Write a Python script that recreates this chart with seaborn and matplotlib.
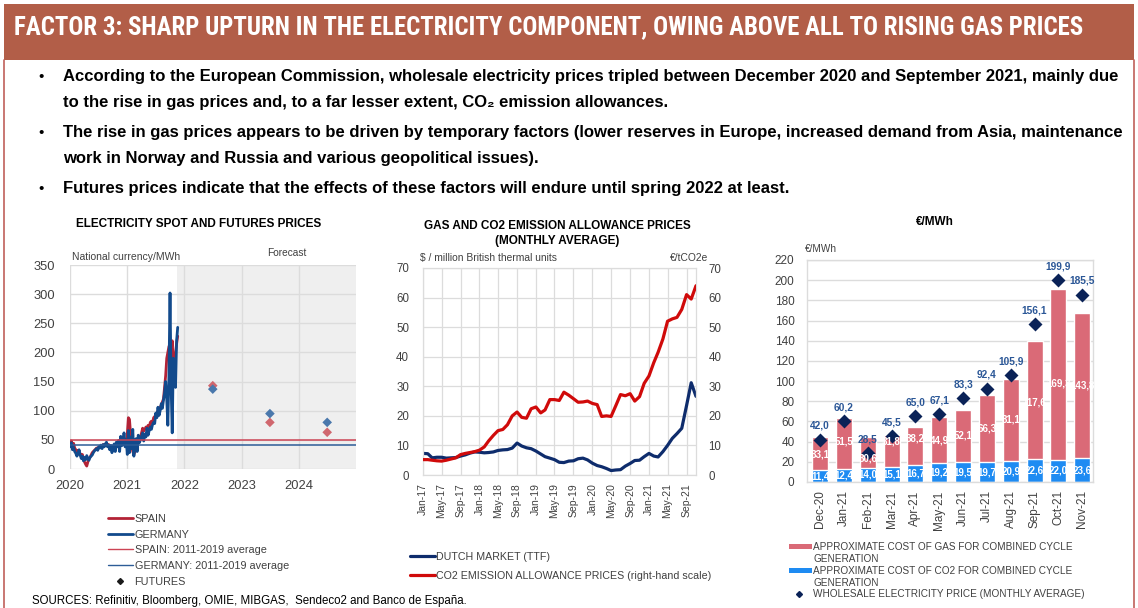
import numpy as np
import pandas as pd
import matplotlib
matplotlib.use("Agg")
import matplotlib.pyplot as plt
from matplotlib.patches import Rectangle
from matplotlib.lines import Line2D
from matplotlib import font_manager as fm
import seaborn as sns

# ---------------- data ----------------
# Chart 1: weekly electricity spot prices (national currency / MWh), from early Jan 2020
spot_start = "2020-01-03"
spain_spot = [42, 48, 40, 44, 36, 33, 30, 32, 30, 26, 22, 25, 18, 12, 8, 5, 12, 18, 20, 24,
              28, 30, 32, 34, 36, 35, 38, 38, 40, 38, 42, 40, 42, 44, 40, 42, 38, 40, 36, 38,
              40, 36, 42, 40, 44, 38, 46, 42, 44, 48, 42, 46,
              60, 88, 85, 60, 40, 30, 25, 30, 45, 42, 50, 48, 55, 62, 70, 65, 68, 72, 70, 75,
              72, 80, 82, 78, 88, 90, 92, 95, 100, 98, 105, 110, 115, 120, 140, 160, 190, 200,
              210, 215, 200, 220, 180, 190, 200, 215, 228]
germany_spot = [38, 45, 33, 37, 30, 27, 22, 26, 33, 24, 18, 22, 14, 20, 16, 23, 18, 15, 20, 22,
                24, 28, 31, 33, 35, 32, 38, 36, 41, 35, 42, 38, 43, 46, 38, 41, 33, 40, 28, 36,
                43, 30, 46, 38, 49, 30, 56, 40, 44, 62, 38, 50,
                25, 66, 28, 55, 35, 68, 22, 48, 52, 30, 58, 45, 50, 56, 62, 48, 60, 55, 70, 58,
                66, 72, 68, 76, 80, 78, 96, 88, 106, 92, 100, 112, 104, 118, 130, 150, 120, 75,
                160, 302, 140, 62, 190, 150, 140, 220, 243]
spain_avg_2011_2019 = 50
germany_avg_2011_2019 = 41
futures_dates = ["2022-07-01", "2023-07-01", "2024-07-01"]
spain_futures = [143, 80, 63]
germany_futures = [137, 95, 80]
year_labels = ["2020", "2021", "2022", "2023", "2024"]

# Chart 2: monthly averages from Jan 2017
gas_start = "2017-01-01"
ttf_price = [7.3, 7.2, 5.8, 6.0, 6.0, 5.7, 5.8, 5.9, 6.4, 6.8, 7.4, 7.8,
             7.7, 7.5, 7.6, 7.8, 8.3, 8.5, 8.6, 9.1, 10.8, 9.8, 9.2, 8.9,
             8.1, 7.1, 6.2, 5.7, 5.2, 4.3, 4.2, 4.7, 4.8, 5.5, 5.7, 5.1,
             4.0, 3.2, 2.8, 2.2, 1.5, 1.7, 1.8, 3.0, 3.9, 4.9, 5.0, 6.2,
             7.3, 6.4, 6.1, 7.9, 10.0, 12.4, 14.0, 15.8, 23.5, 31.2, 26.6]
co2_price = [5.2, 5.2, 5.0, 4.8, 4.7, 5.0, 5.4, 5.8, 6.9, 7.3, 7.6, 7.9,
             8.4, 9.5, 11.5, 13.4, 15.0, 15.4, 17.0, 20.0, 21.3, 19.5, 19.2, 22.4,
             23.0, 21.0, 22.0, 25.5, 25.5, 25.2, 28.0, 27.0, 25.8, 24.6, 24.7, 25.0,
             24.2, 23.8, 19.8, 20.0, 19.8, 23.5, 27.2, 26.8, 27.5, 25.0, 26.5, 31.0,
             33.5, 38.0, 41.5, 46.0, 52.0, 52.8, 53.3, 56.0, 61.0, 59.5, 64.0]

# Chart 3: cost components (EUR/MWh)
cost_months = ["Dec-20", "Jan-21", "Feb-21", "Mar-21", "Apr-21", "May-21",
               "Jun-21", "Jul-21", "Aug-21", "Sep-21", "Oct-21", "Nov-21"]
co2_cost = [11.4, 12.4, 14.0, 15.1, 16.7, 19.2, 19.5, 19.7, 20.9, 22.6, 22.0, 23.6]
gas_cost = [33.1, 51.5, 30.6, 31.8, 38.2, 44.9, 52.1, 66.3, 81.1, 117.6, 169.3, 143.8]
wholesale_price = [42.0, 60.2, 28.5, 45.5, 65.0, 67.1, 83.3, 92.4, 105.9, 156.1, 199.9, 185.5]
gas_label_level = [27.7, 40.5, 23.5, 40, 43.5, 41.6, 46, 53, 61.5, 78.5, 97.5, 96]

# ---------------- style ----------------
W, H = 1138, 608
sns.set_theme(style="white")
BASE = ["Liberation Sans", "DejaVu Sans"]
plt.rcParams["font.family"] = BASE
plt.rcParams["axes.unicode_minus"] = False

BOLDW = {"bold", "700", "heavy", "800", "black", "900", "semibold", "600", "demibold"}


def find_condensed_bold():
    prefs = ["Liberation Sans Narrow", "Arial Narrow", "Roboto Condensed", "Noto Sans Condensed",
             "Open Sans Condensed", "DejaVu Sans Condensed"]
    fl = fm.fontManager.ttflist
    for name in prefs:
        for f in fl:
            if f.name == name and str(f.weight) in BOLDW and f.style == "normal":
                return f.fname
    for f in fl:
        cond = (str(f.stretch) in ("condensed", "semi-condensed", "extra-condensed")
                or "Condensed" in f.name or "Narrow" in f.name
                or "Condensed" in f.fname or "Narrow" in f.fname)
        if cond and str(f.weight) in BOLDW and f.style == "normal":
            return f.fname
    return None


COND_PATH = find_condensed_bold()

C_SPAIN, C_GER = "#B32236", "#124A8C"
C_SPAIN_AVG, C_GER_AVG = "#CC4455", "#2D5C97"
C_SPAIN_F, C_GER_F = "#D0676E", "#4A78AC"
C_TTF, C_CO2 = "#0E2C6C", "#D00A0A"
C_GAS, C_CO2B, C_DIAM, C_LAB = "#DA6A77", "#1E8BF2", "#0A2257", "#2B5797"
TXT = "#404040"
GRID = "#DCDCDC"

fig = plt.figure(figsize=(W / 100, H / 100), dpi=100)
fig.patch.set_facecolor("white")


def fx(x):
    return x / W


def fy(y):
    return 1 - y / H


def ftext(x, y, s, **kw):
    kw.setdefault("va", "center")
    return fig.text(fx(x), fy(y), s, **kw)


renderer = fig.canvas.get_renderer()


def fit(t, width_px):
    bb = t.get_window_extent(renderer)
    t.set_fontsize(t.get_fontsize() * width_px / bb.width)
    return t.get_fontsize()


# ---------------- header ----------------
fig.add_artist(Rectangle((fx(4), fy(60)), fx(1134) - fx(4), fy(4) - fy(60),
                         transform=fig.transFigure, facecolor="#B25E48",
                         edgecolor="none", zorder=0))
for xx in (4, 1134):
    fig.add_artist(Line2D([fx(xx), fx(xx)], [fy(60), fy(608)], transform=fig.transFigure,
                          color="#C0605A", lw=1.2))

title_txt = "FACTOR 3: SHARP UPTURN IN THE ELECTRICITY COMPONENT, OWING ABOVE ALL TO RISING GAS PRICES"
if COND_PATH:
    title = ftext(14, 27, title_txt, color="white", fontsize=13, ha="left",
                  fontproperties=fm.FontProperties(fname=COND_PATH, size=13))
else:
    title = ftext(14, 27, title_txt, color="white", fontsize=13, fontweight="bold", ha="left")
fit(title, 1069)

bullet_lines = [
    (77, True, "According to the European Commission, wholesale electricity prices tripled between December 2020 and September 2021, mainly due"),
    (102, False, "to the rise in gas prices and, to a far lesser extent, CO\u2082 emission allowances."),
    (133, True, "The rise in gas prices appears to be driven by temporary factors (lower reserves in Europe, increased demand from Asia, maintenance"),
    (158, False, "work in Norway and Russia and various geopolitical issues)."),
    (189, True, "Futures prices indicate that the effects of these factors will endure until spring 2022 at least."),
]
first = ftext(63, bullet_lines[0][0], bullet_lines[0][2], fontsize=10, fontweight="bold",
              color="black", ha="left")
bsize = fit(first, 1062)
ftext(38, bullet_lines[0][0], "\u2022", fontsize=bsize * 0.9, color="black", ha="left")
for yy, bul, s in bullet_lines[1:]:
    ftext(63, yy, s, fontsize=bsize, fontweight="bold", color="black", ha="left")
    if bul:
        ftext(38, yy, "\u2022", fontsize=bsize * 0.9, color="black", ha="left")

# ---------------- chart 1 ----------------
ax1 = fig.add_axes([fx(70), fy(469), fx(356) - fx(70), fy(265) - fy(469)])
spot_dates = pd.date_range(spot_start, periods=len(spain_spot), freq="7D")
spot = pd.DataFrame({
    "date": list(spot_dates) * 2,
    "price": spain_spot + germany_spot,
    "series": ["SPAIN"] * len(spain_spot) + ["GERMANY"] * len(germany_spot),
})
sns.lineplot(data=spot, x="date", y="price", hue="series", hue_order=["SPAIN", "GERMANY"],
             palette={"SPAIN": C_SPAIN, "GERMANY": C_GER}, linewidth=2.0,
             estimator=None, legend=False, ax=ax1)
ax1.axhline(spain_avg_2011_2019, color=C_SPAIN_AVG, lw=1.1, zorder=3)
ax1.axhline(germany_avg_2011_2019, color=C_GER_AVG, lw=1.1, zorder=3)
fut = pd.DataFrame({
    "date": pd.to_datetime(futures_dates * 2),
    "price": spain_futures + germany_futures,
    "series": ["SPAIN"] * len(spain_futures) + ["GERMANY"] * len(germany_futures),
})
sns.scatterplot(data=fut, x="date", y="price", hue="series",
                palette={"SPAIN": C_SPAIN_F, "GERMANY": C_GER_F}, marker="D", s=24,
                edgecolor="none", legend=False, ax=ax1, zorder=4)
ax1.axvspan(pd.Timestamp("2021-11-14"), pd.Timestamp("2025-01-01"), color="#EFEFEF",
            lw=0, zorder=0.2)
ax1.set_xlim(pd.Timestamp("2020-01-01"), pd.Timestamp("2025-01-01"))
ax1.set_ylim(0, 350)
ax1.set_yticks(range(0, 351, 50))
ax1.set_xticks(pd.to_datetime([f"{y}-01-01" for y in year_labels]))
ax1.set_xticklabels(year_labels)
ax1.set_axisbelow(True)
ax1.grid(True, color=GRID, lw=1)
for sp in ax1.spines.values():
    sp.set_visible(False)
ax1.tick_params(labelsize=9.3, colors=TXT, length=0)
ax1.tick_params(axis="y", pad=11)
ax1.tick_params(axis="x", pad=8)
ax1.set_xlabel("")
ax1.set_ylabel("")

ftext(199, 224, "ELECTRICITY SPOT AND FUTURES PRICES", ha="center", fontsize=8.5,
      fontweight="bold", color="black")
ftext(72, 257, "National currency/MWh", fontsize=7.5, color=TXT, ha="left")
ftext(287, 253, "Forecast", fontsize=7.3, color=TXT, ha="center")

h1 = [Line2D([], [], color=C_SPAIN, lw=2), Line2D([], [], color=C_GER, lw=2),
      Line2D([], [], color=C_SPAIN_AVG, lw=1), Line2D([], [], color=C_GER_AVG, lw=1),
      Line2D([], [], color="#1a1a1a", marker="D", ls="none", ms=3)]
l1 = ["SPAIN", "GERMANY", "SPAIN: 2011-2019 average", "GERMANY: 2011-2019 average", "FUTURES"]
fig.legend(h1, l1, loc="upper left", bbox_to_anchor=(fx(108), fy(514)), frameon=False,
           fontsize=7.8, handlelength=2.3, handletextpad=0.15, labelspacing=0.52,
           borderpad=0, borderaxespad=0, numpoints=1, labelcolor=TXT)

# ---------------- chart 2 ----------------
ax2 = fig.add_axes([fx(423), fy(475), fx(696) - fx(423), fy(268) - fy(475)])
gas_dates = pd.date_range(gas_start, periods=len(ttf_price), freq="MS")
sns.lineplot(x=gas_dates, y=ttf_price, color=C_TTF, linewidth=2.3, ax=ax2)
ax2.set_xlim(gas_dates[0], gas_dates[-1])
ax2.set_ylim(0, 70)
ax2.set_yticks(range(0, 71, 10))
ax2.set_xticks(gas_dates[::4])
ax2.set_xticklabels([d.strftime("%b-%y") for d in gas_dates[::4]], rotation=90)
ax2.grid(True, color=GRID, lw=0.9)
ax2.set_axisbelow(True)
for sp in ax2.spines.values():
    sp.set_color(GRID)
    sp.set_linewidth(0.9)
ax2.tick_params(labelsize=8.3, colors=TXT, length=0)
ax2.tick_params(axis="y", pad=10)
ax2.tick_params(axis="x", pad=6, labelsize=7.5)
ax2r = ax2.twinx()
sns.lineplot(x=gas_dates, y=co2_price, color=C_CO2, linewidth=2.3, ax=ax2r)
ax2r.set_ylim(0, 70)
ax2r.set_yticks(range(0, 71, 10))
ax2r.grid(False)
for sp in ax2r.spines.values():
    sp.set_visible(False)
ax2r.tick_params(axis="y", labelsize=8.3, colors=TXT, length=0, pad=9)
for a in (ax2, ax2r):
    a.set_xlabel("")
    a.set_ylabel("")

ftext(557, 226, "GAS AND CO2 EMISSION ALLOWANCE PRICES", ha="center", fontsize=8.5,
      fontweight="bold", color="black")
ftext(557, 241, "(MONTHLY AVERAGE)", ha="center", fontsize=8.5, fontweight="bold", color="black")
ftext(420, 258, "$ / million British thermal units", fontsize=7.4, color=TXT, ha="left")
ftext(708, 258, "\u20ac/tCO2e", fontsize=7.4, color=TXT, ha="right")

h2 = [Line2D([], [], color=C_TTF, lw=2.3), Line2D([], [], color=C_CO2, lw=2.3)]
l2 = ["DUTCH MARKET (TTF)", "CO2 EMISSION ALLOWANCE PRICES (right-hand scale)"]
fig.legend(h2, l2, loc="upper left", bbox_to_anchor=(fx(410), fy(552)), frameon=False,
           fontsize=7.7, handlelength=2.3, handletextpad=0.15, labelspacing=0.85,
           borderpad=0, borderaxespad=0, labelcolor=TXT)

# ---------------- chart 3 ----------------
ax3 = fig.add_axes([fx(807), fy(482), fx(1093) - fx(807), fy(260) - fy(482)])
total_cost = [g + c for g, c in zip(gas_cost, co2_cost)]
sns.barplot(x=cost_months, y=total_cost, color=C_GAS, saturation=1, width=0.67, ax=ax3)
sns.barplot(x=cost_months, y=co2_cost, color=C_CO2B, saturation=1, width=0.67, ax=ax3)
sns.pointplot(x=cost_months, y=wholesale_price, color=C_DIAM, markers="D", linestyle="none",
              markersize=5, errorbar=None, ax=ax3)


def fmt(v):
    return f"{v:.1f}".replace(".", ",")


for i, (c, g, p, gl) in enumerate(zip(co2_cost, gas_cost, wholesale_price, gas_label_level)):
    ax3.text(i, c / 2, fmt(c), color="white", fontweight="bold", fontsize=7,
             ha="center", va="center", zorder=5)
    ax3.text(i, gl, fmt(g), color="white", fontweight="bold", fontsize=7,
             ha="center", va="center", zorder=5)
    ax3.annotate(fmt(p), (i, p), xytext=(0, 10), textcoords="offset points", ha="center",
                 va="center", fontsize=7.3, fontweight="bold", color=C_LAB, zorder=6)

ax3.set_xlim(-0.55, len(cost_months) - 0.55)
ax3.set_ylim(0, 220)
ax3.set_yticks(range(0, 221, 20))
ax3.set_axisbelow(True)
ax3.grid(True, axis="y", color=GRID, lw=1)
ax3.grid(False, axis="x")
for sp in ax3.spines.values():
    sp.set_color(GRID)
    sp.set_linewidth(1)
ax3.tick_params(labelsize=8.5, colors=TXT, length=0)
ax3.tick_params(axis="y", pad=9)
ax3.tick_params(axis="x", pad=6, labelsize=8.5, rotation=90)
ax3.set_xlabel("")
ax3.set_ylabel("")

ftext(935, 222, "\u20ac/MWh", ha="center", fontsize=8.5, fontweight="bold", color="black")
ftext(821, 249, "\u20ac/MWh", ha="center", fontsize=7.2, color=TXT)

# legend (chart 3)
fig.add_artist(Rectangle((fx(789), fy(549)), fx(812) - fx(789), fy(544) - fy(549),
                         transform=fig.transFigure, facecolor=C_GAS, edgecolor="none"))
fig.add_artist(Rectangle((fx(789), fy(572.5)), fx(812) - fx(789), fy(567.5) - fy(572.5),
                         transform=fig.transFigure, facecolor=C_CO2B, edgecolor="none"))
fig.add_artist(Line2D([fx(799)], [fy(593.5)], transform=fig.transFigure, marker="D",
                      ms=3, color=C_DIAM, ls="none"))
leg3 = [(546.5, "APPROXIMATE COST OF GAS FOR COMBINED CYCLE"), (559.5, "GENERATION"),
        (570.5, "APPROXIMATE COST OF CO2 FOR COMBINED CYCLE"), (583, "GENERATION"),
        (594, "WHOLESALE ELECTRICITY PRICE (MONTHLY AVERAGE)")]
for yy, s in leg3:
    ftext(813, yy, s, fontsize=7.2, color=TXT, ha="left")

ftext(32, 601, "SOURCES: Refinitiv, Bloomberg, OMIE, MIBGAS,  Sendeco2 and Banco de Espa\u00f1a.",
      fontsize=8.3, color="black", ha="left")

fig.savefig("out.png", dpi=100, facecolor="white")
